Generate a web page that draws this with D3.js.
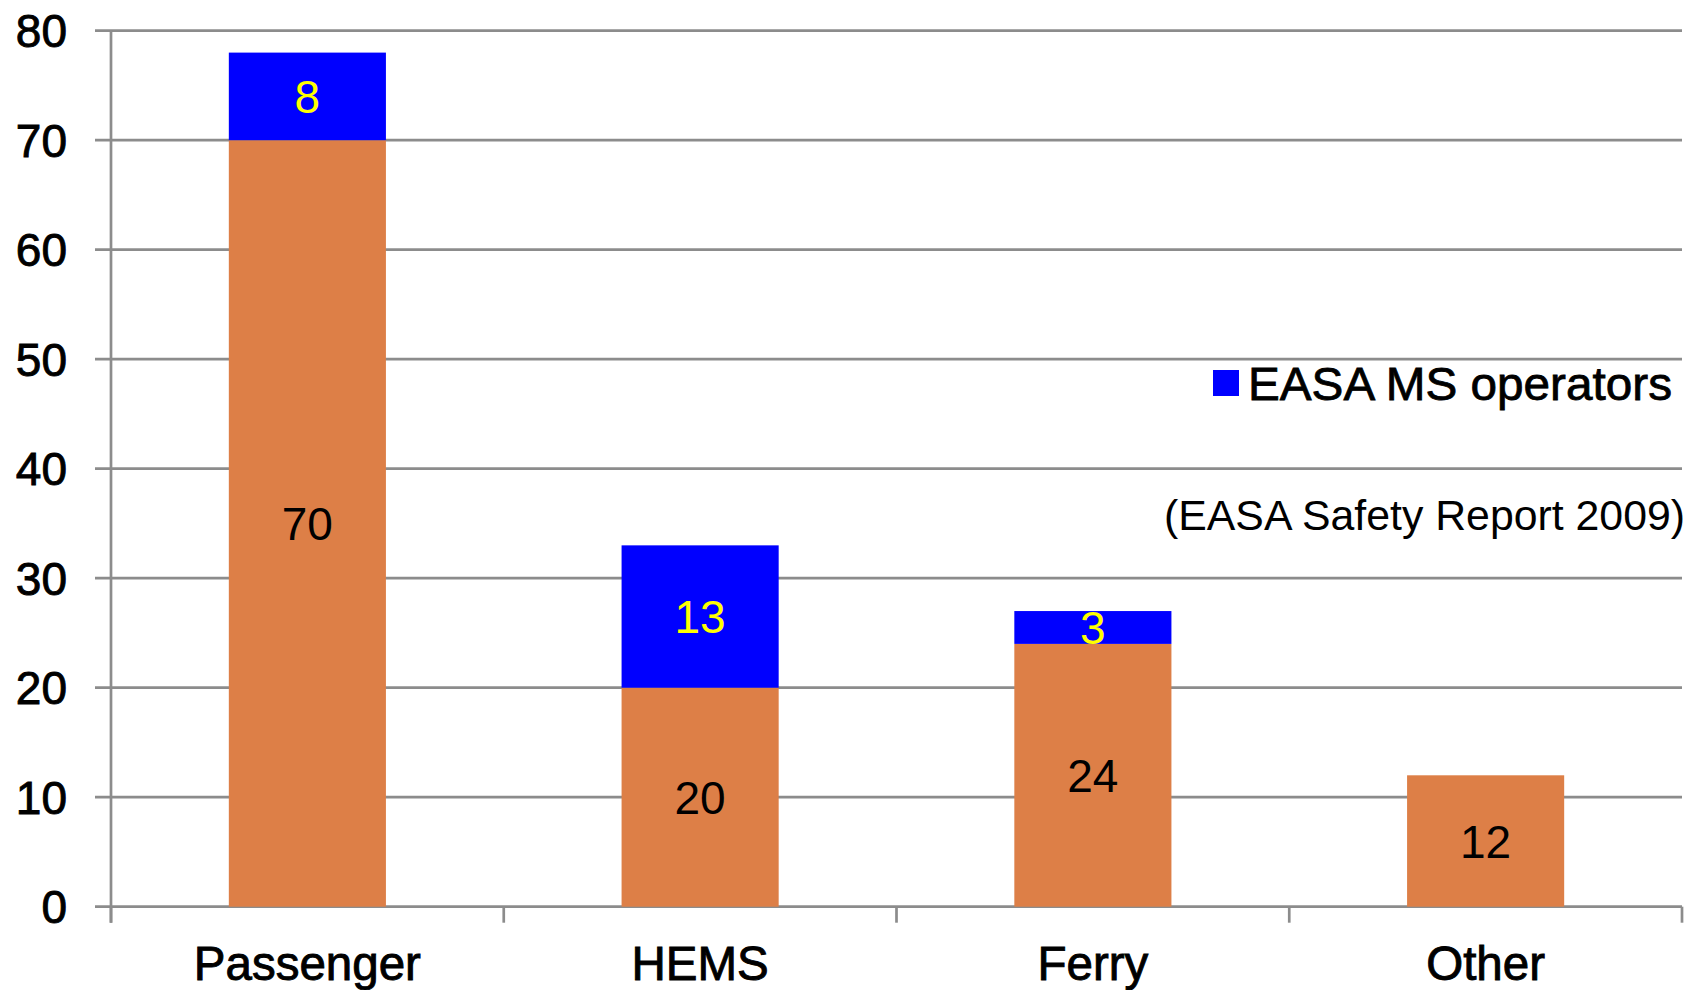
<!DOCTYPE html>
<html>
<head>
<meta charset="utf-8">
<script src="https://cdn.jsdelivr.net/npm/d3@7"></script>
<style>
  html, body { margin: 0; padding: 0; background: #fff; }
  svg { display: block; font-family: "Liberation Sans", Arial, sans-serif; }
</style>
</head>
<body>
<svg id="chart" width="1697" height="990"></svg>
<script>
const categories = ["Passenger", "HEMS", "Ferry", "Other"];
const otherOperators = [70, 20, 24, 12];
const easaOperators = [8, 13, 3, 0];
const yTicks = [0, 10, 20, 30, 40, 50, 60, 70, 80];
const legendLabel = "EASA MS operators";
const sourceNote = "(EASA Safety Report 2009)";

(function () {
const svg = d3.select("#chart");
const pLeft = 111, pRight = 1682, pTop = 30.7, pBottom = 906.7;

const x = d3.scaleBand().domain(categories).range([pLeft, pRight])
  .paddingInner(0.6).paddingOuter(0.3);
const y = d3.scaleLinear().domain([0, 80]).range([pBottom, pTop]);

const gridColor = "#8c8c8c";

// gridlines
svg.append("g").selectAll("line").data(yTicks).join("line")
  .attr("x1", pLeft - 16).attr("x2", pRight)
  .attr("y1", d => y(d)).attr("y2", d => y(d))
  .attr("stroke", gridColor).attr("stroke-width", 2.7);

// y axis line
svg.append("line").attr("x1", pLeft).attr("x2", pLeft)
  .attr("y1", pTop).attr("y2", pBottom + 16)
  .attr("stroke", gridColor).attr("stroke-width", 2.7);

// x category boundary ticks
const step = x.step();
const bounds = d3.range(categories.length + 1).map(i => pLeft + i * step);
svg.append("g").selectAll("line").data(bounds).join("line")
  .attr("x1", d => d).attr("x2", d => d)
  .attr("y1", pBottom).attr("y2", pBottom + 16)
  .attr("stroke", gridColor).attr("stroke-width", 2.7);

// y tick labels
svg.append("g").selectAll("text").data(yTicks).join("text")
  .attr("x", 67).attr("y", d => y(d)).attr("dy", "0.36em")
  .attr("text-anchor", "end").attr("font-size", 46)
  .attr("fill", "#000").attr("stroke", "#000").attr("stroke-width", 0.9)
  .text(d => d);

// bars
const data = categories.map((c, i) => ({ c, a: otherOperators[i], b: easaOperators[i] }));
svg.append("g").selectAll("rect").data(data).join("rect")
  .attr("x", d => x(d.c)).attr("width", x.bandwidth())
  .attr("y", d => y(d.a)).attr("height", d => y(0) - y(d.a))
  .attr("fill", "#dd7f47");
svg.append("g").selectAll("rect").data(data.filter(d => d.b > 0)).join("rect")
  .attr("x", d => x(d.c)).attr("width", x.bandwidth())
  .attr("y", d => y(d.a + d.b)).attr("height", d => y(d.a) - y(d.a + d.b))
  .attr("fill", "#0000ff");

// data labels
svg.append("g").selectAll("text").data(data).join("text")
  .attr("x", d => x(d.c) + x.bandwidth() / 2).attr("y", d => y(d.a / 2))
  .attr("dy", "0.36em").attr("text-anchor", "middle").attr("font-size", 46)
  .attr("fill", "#000").text(d => d.a);
svg.append("g").selectAll("text").data(data.filter(d => d.b > 0)).join("text")
  .attr("x", d => x(d.c) + x.bandwidth() / 2).attr("y", d => y(d.a + d.b / 2))
  .attr("dy", "0.36em").attr("text-anchor", "middle").attr("font-size", 46)
  .attr("fill", "#ffff00").text(d => d.b);

// x labels
svg.append("g").selectAll("text").data(categories).join("text")
  .attr("x", d => x(d) + x.bandwidth() / 2).attr("y", 980)
  .attr("text-anchor", "middle").attr("font-size", 47.5)
  .attr("fill", "#000").attr("stroke", "#000").attr("stroke-width", 0.9)
  .text(d => d);

// legend
svg.append("rect").attr("x", 1213).attr("y", 370).attr("width", 26).attr("height", 26)
  .attr("fill", "#0000ff");
svg.append("text").attr("x", 1248).attr("y", 400).attr("font-size", 47)
  .attr("fill", "#000").attr("stroke", "#000").attr("stroke-width", 0.8)
  .attr("textLength", 424).attr("lengthAdjust", "spacingAndGlyphs")
  .text(legendLabel);

// source note
svg.append("text").attr("x", 1685).attr("y", 530).attr("text-anchor", "end")
  .attr("font-size", 42.8).attr("fill", "#000").text(sourceNote);
})();
</script>
</body>
</html>
